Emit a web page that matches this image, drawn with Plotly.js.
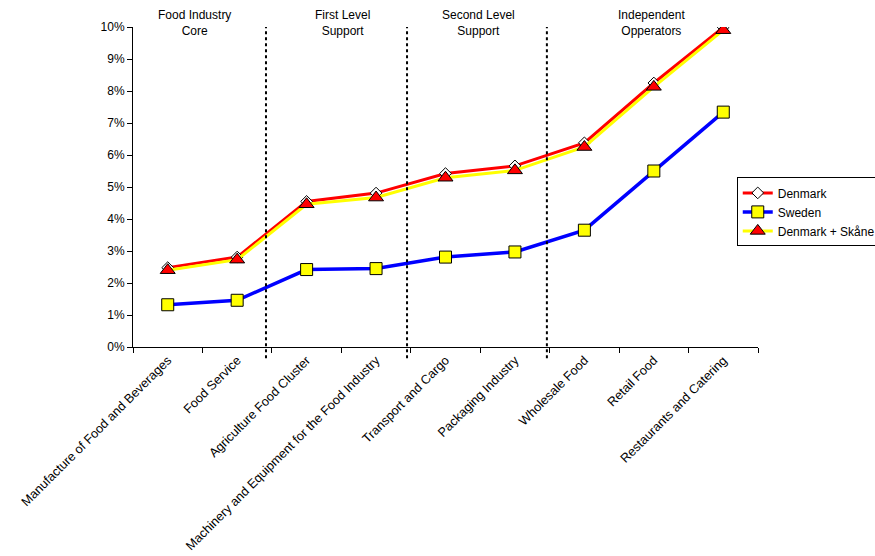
<!DOCTYPE html>
<html><head><meta charset="utf-8">
<script src="https://cdn.plot.ly/plotly-3.0.1.min.js"></script>
<style>body{margin:0;background:#fff}#chart{width:875px;height:556px}</style>
</head><body><div id="chart"></div>
<script>
const categories = ["Manufacture of Food and Beverages","Food Service","Agriculture Food Cluster","Machinery and Equipment for the Food Industry","Transport and Cargo","Packaging Industry","Wholesale Food","Retail Food","Restaurants and Catering"];
const denmark = [0.0248,0.0281,0.0455,0.0481,0.0542,0.0566,0.0638,0.0825,0.0999];
const sweden = [0.0132,0.0146,0.0242,0.0245,0.0281,0.0297,0.0365,0.0550,0.0734];
const denmarkSkane = [0.0240,0.0273,0.0446,0.0467,0.0529,0.0552,0.0625,0.0813,0.0990];
const groupLabels = ["Food Industry<br>Core","First Level<br>Support","Second Level<br>Support","Independent<br>Opperators"];
const groupLabelPos = [0.38,2.52,4.47,6.96];
const dividers = [1.415,3.446,5.46];

const font = {family:"Liberation Sans, Arial, sans-serif", size:12, color:"#000"};
const font2 = {family:"Liberation Sans, Arial, sans-serif", size:12.7, color:"#000"};
const traces = [
 {x:categories,y:denmark,name:"Denmark",mode:"lines+markers",
  line:{color:"#ff0000",width:3},
  marker:{symbol:"diamond",size:9,color:"#ffffff",line:{color:"#000",width:1}}},
 {x:categories,y:sweden,name:"Sweden",mode:"lines+markers",
  line:{color:"#0000ff",width:3.5},
  marker:{symbol:"square",size:12,color:"#ffff00",line:{color:"#000",width:1}}},
 {x:categories,y:denmarkSkane,name:"Denmark + Skåne",mode:"lines+markers",
  line:{color:"#ffff00",width:3},
  marker:{symbol:"triangle-up",size:13,color:"#ff0000",line:{color:"#000",width:1}}}
];
const shapes = dividers.map(d=>({type:"line",xref:"x",yref:"paper",x0:d,x1:d,y0:-0.035,y1:1,
  line:{color:"#000",width:2,dash:"dot"}}));
const annotations = groupLabels.map((t,i)=>({text:t,x:groupLabelPos[i],xref:"x",yref:"paper",y:1.012,
  yanchor:"middle",xanchor:"center",showarrow:false,font:font}));
const layout = {
  width:875,height:556,margin:{l:133,r:117,t:27,b:209,autoexpand:false},
  paper_bgcolor:"#fff",plot_bgcolor:"#fff",font:font,
  showlegend:true,
  legend:{x:0.966,y:0.53,xanchor:"left",yanchor:"top",bordercolor:"#000",borderwidth:1,
    bgcolor:"#fff",font:font,tracegroupgap:0,itemwidth:30},
  xaxis:{type:"category",tickangle:-45,showgrid:false,showline:true,linecolor:"#000",linewidth:1,
    ticks:"outside",tickson:"boundaries",ticklen:5,tickcolor:"#000",tickfont:font2,
    range:[-0.5,8.5],zeroline:false,automargin:false},
  yaxis:{range:[0,0.1],dtick:0.01,tickformat:".0%",showgrid:false,showline:true,linecolor:"#000",
    linewidth:1,ticks:"outside",ticklen:5,tickcolor:"#000",tickfont:font,zeroline:false,automargin:false},
  shapes:shapes,annotations:annotations
};
Plotly.newPlot("chart",traces,layout,{displayModeBar:false,staticPlot:true});
</script></body></html>
